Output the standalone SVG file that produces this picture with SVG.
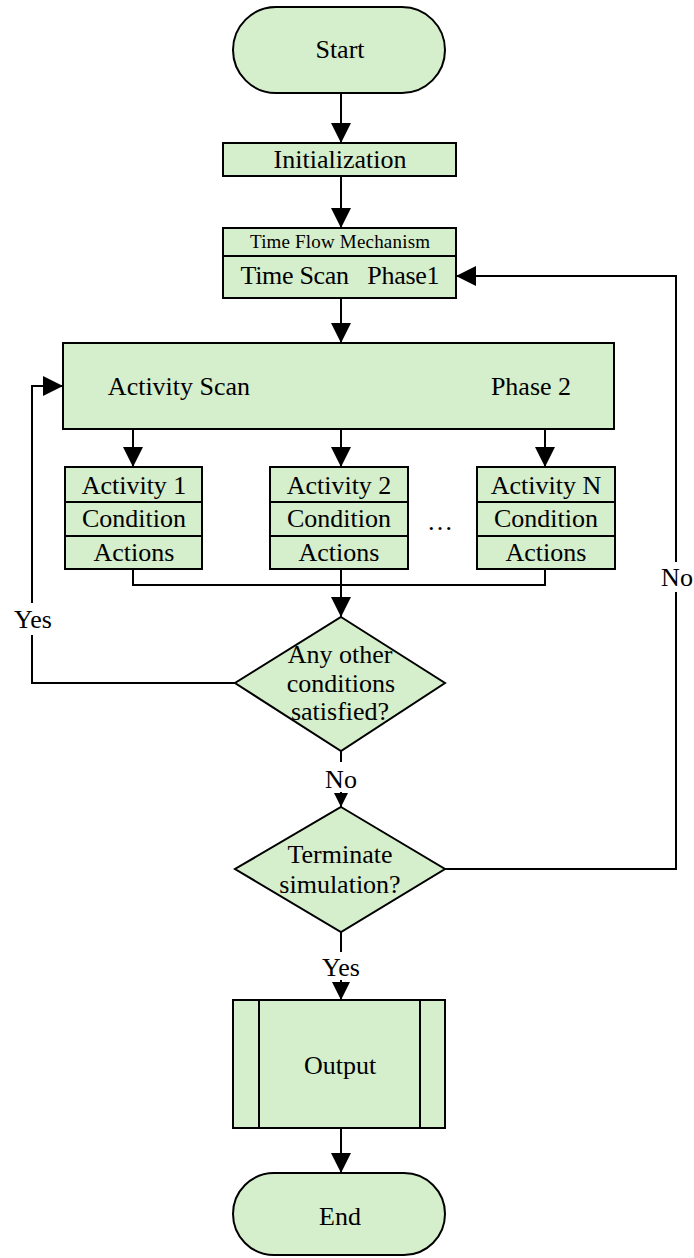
<svg xmlns="http://www.w3.org/2000/svg" width="694" height="1258" viewBox="0 0 694 1258">
  <style>
    .box { fill: #d5eecc; stroke: #000; stroke-width: 2; }
    .ln { fill: none; stroke: #000; stroke-width: 2; }
    .t { font-family: "Liberation Serif", "DejaVu Serif", serif; font-size: 26px; fill: #000; text-anchor: middle; }
    .ts { font-size: 19px; }
  </style>
  <defs>
    <marker id="arr" markerUnits="userSpaceOnUse" markerWidth="20" markerHeight="20" viewBox="0 0 20 20" refX="20" refY="10" orient="auto">
      <path d="M0,0 L20,10 L0,20 Z" fill="#000"/>
    </marker>
    <marker id="arrS" markerUnits="userSpaceOnUse" markerWidth="14" markerHeight="14" viewBox="0 0 14 14" refX="14" refY="7" orient="auto">
      <path d="M0,0 L14,7 L0,14 Z" fill="#000"/>
    </marker>
    <marker id="arrM" markerUnits="userSpaceOnUse" markerWidth="18" markerHeight="18" viewBox="0 0 18 18" refX="18" refY="9" orient="auto">
      <path d="M0,0 L18,9 L0,18 Z" fill="#000"/>
    </marker>
  </defs>

  <!-- connectors -->
  <g id="connectors">
    <line class="ln" x1="341" y1="93" x2="341" y2="143" marker-end="url(#arr)"/>
    <line class="ln" x1="341" y1="176" x2="341" y2="228" marker-end="url(#arr)"/>
    <line class="ln" x1="341" y1="298" x2="341" y2="343" marker-end="url(#arr)"/>
    <line class="ln" x1="133" y1="429" x2="133" y2="467" marker-end="url(#arr)"/>
    <line class="ln" x1="341" y1="429" x2="341" y2="467" marker-end="url(#arr)"/>
    <line class="ln" x1="545" y1="429" x2="545" y2="467" marker-end="url(#arr)"/>
    <polyline class="ln" points="133,569 133,585 545,585 545,569"/>
    <line class="ln" x1="341" y1="569" x2="341" y2="617" marker-end="url(#arr)"/>
    <!-- Yes loop back to the activity scan -->
    <polyline class="ln" points="235,683 32,683 32,635"/>
    <polyline class="ln" points="32,603 32,386 63,386" marker-end="url(#arr)"/>
    <text class="t" x="33" y="628">Yes</text>
    <!-- No to terminate test -->
    <line class="ln" x1="341" y1="751" x2="341" y2="762"/>
    <line class="ln" x1="341" y1="792" x2="341" y2="807" marker-end="url(#arrS)"/>
    <text class="t" x="341" y="788">No</text>
    <!-- No loop back to the time scan -->
    <polyline class="ln" points="445,869 676,869 676,592"/>
    <polyline class="ln" points="676,562 676,276 456,276" marker-end="url(#arr)"/>
    <text class="t" x="677" y="586">No</text>
    <!-- Yes to output -->
    <line class="ln" x1="341" y1="932" x2="341" y2="952"/>
    <line class="ln" x1="341" y1="980" x2="341" y2="1000" marker-end="url(#arrM)"/>
    <text class="t" x="341" y="976">Yes</text>
    <line class="ln" x1="341" y1="1128" x2="341" y2="1173" marker-end="url(#arr)"/>
  </g>

  <g id="start">
    <rect class="box" x="233" y="7" width="212" height="86" rx="43" ry="43"/>
    <text class="t" x="340" y="58">Start</text>
  </g>

  <g id="init">
    <rect class="box" x="223" y="143" width="233" height="33"/>
    <text class="t" x="340" y="168">Initialization</text>
  </g>

  <g id="time-flow">
    <rect class="box" x="223" y="228" width="233" height="70"/>
    <line class="ln" x1="223" y1="256" x2="456" y2="256"/>
    <text class="t ts" x="340" y="248" textLength="180">Time Flow Mechanism</text>
    <text class="t" x="340" y="284" textLength="199" xml:space="preserve">Time Scan   Phase1</text>
  </g>

  <g id="activity-scan">
    <rect class="box" x="63" y="343" width="551" height="86"/>
    <text class="t" x="179" y="395">Activity Scan</text>
    <text class="t" x="531" y="395">Phase 2</text>
  </g>

  <g id="activity-1">
    <rect class="box" x="65" y="467" width="137" height="102"/>
    <line class="ln" x1="65" y1="502" x2="202" y2="502"/>
    <line class="ln" x1="65" y1="536" x2="202" y2="536"/>
    <text class="t" x="134" y="494">Activity 1</text>
    <text class="t" x="134" y="527">Condition</text>
    <text class="t" x="134" y="561">Actions</text>
  </g>

  <g id="activity-2">
    <rect class="box" x="270" y="467" width="138" height="102"/>
    <line class="ln" x1="270" y1="502" x2="408" y2="502"/>
    <line class="ln" x1="270" y1="536" x2="408" y2="536"/>
    <text class="t" x="339" y="494">Activity 2</text>
    <text class="t" x="339" y="527">Condition</text>
    <text class="t" x="339" y="561">Actions</text>
  </g>

  <text id="ellipsis" class="t" x="440" y="530">…</text>

  <g id="activity-n">
    <rect class="box" x="477" y="467" width="138" height="102"/>
    <line class="ln" x1="477" y1="502" x2="615" y2="502"/>
    <line class="ln" x1="477" y1="536" x2="615" y2="536"/>
    <text class="t" x="546" y="494">Activity N</text>
    <text class="t" x="546" y="527">Condition</text>
    <text class="t" x="546" y="561">Actions</text>
  </g>

  <g id="other-conditions">
    <polygon class="box" points="341,617 445,683 341,751 235,683"/>
    <text class="t" x="340" y="663">Any other</text>
    <text class="t" x="341" y="692">conditions</text>
    <text class="t" x="340" y="720">satisfied?</text>
  </g>

  <g id="terminate">
    <polygon class="box" points="341,807 445,869 341,932 235,869"/>
    <text class="t" x="340" y="863">Terminate</text>
    <text class="t" x="340" y="893">simulation?</text>
  </g>

  <g id="output">
    <rect class="box" x="233" y="1000" width="212" height="128"/>
    <line class="ln" x1="259" y1="1000" x2="259" y2="1128"/>
    <line class="ln" x1="420" y1="1000" x2="420" y2="1128"/>
    <text class="t" x="340" y="1074">Output</text>
  </g>

  <g id="end">
    <rect class="box" x="233" y="1173" width="212" height="82" rx="41" ry="41"/>
    <text class="t" x="340" y="1225">End</text>
  </g>
</svg>
